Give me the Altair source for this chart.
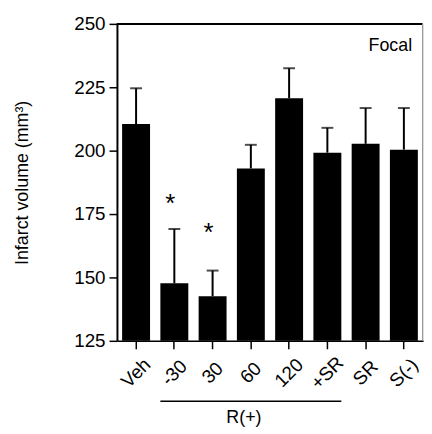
import altair as alt
import pandas as pd

groups = ["Veh", "-30", "30", "60", "120", "+SR", "SR", "S(-)"]
means = [210.5, 147.7, 142.6, 193.0, 220.7, 199.2, 202.7, 200.4]
sems = [14.1, 21.4, 10.1, 9.3, 11.8, 9.8, 14.1, 16.4]
star_groups = ["-30", "30"]
star_values = [181.6, 170.3]
bracket_start = ["-30"]
bracket_end = ["+SR"]
bracket_label = ["R(+)"]
bracket_label_at = ["60"]
panel_label = "Focal"
y_ticks = [125, 150, 175, 200, 225, 250]

FONT = "Liberation Sans"
W, H = 309, 320

df = pd.DataFrame({"group": groups, "mean": means, "sem": sems})
df["top"] = df["mean"] + df["sem"]
df["base"] = 125
stars = pd.DataFrame({"group": star_groups, "v": star_values, "t": ["*"] * len(star_groups)})
brk = pd.DataFrame({"a": bracket_start, "b": bracket_end})
brk_lab = pd.DataFrame({"g": bracket_label_at, "t": bracket_label})

xscale = alt.Scale(domain=groups, paddingInner=0.27, paddingOuter=0.135)
yscale = alt.Scale(domain=[125, 250], zero=False, nice=False)

xenc = alt.X("group:N", scale=xscale, sort=groups,
             axis=alt.Axis(title=None, labelAngle=-45, labelAlign="center",
                           labelBaseline="middle", labelPadding=24, tickSize=8,
                           tickWidth=1.5, domainWidth=1.5, domainColor="black",
                           tickColor="black", labelFontSize=19, labelFont=FONT,
                           labelColor="black"))
yenc = alt.Y("mean:Q", scale=yscale,
             axis=alt.Axis(title="Infarct volume (mm³)", values=y_ticks, tickSize=8,
                           tickWidth=1.5, domainWidth=2, domainColor="black",
                           tickColor="black", labelFontSize=19, labelFont=FONT,
                           labelColor="black", labelPadding=4, titleFont=FONT,
                           titleFontSize=18, titleFontWeight="normal",
                           titleColor="black", titlePadding=43, grid=False))

base = alt.Chart(df)
bars = base.mark_bar(color="black").encode(x=xenc, y=yenc, y2="base:Q")
stems = base.mark_rule(color="black", strokeWidth=2).encode(
    x=alt.X("group:N", scale=xscale, sort=groups), y="mean:Q", y2="top:Q")
caps = base.mark_tick(color="black", orient="horizontal", size=12, thickness=2).encode(
    x=alt.X("group:N", scale=xscale, sort=groups), y=alt.Y("top:Q", scale=yscale))

star_layer = alt.Chart(stars).mark_text(font=FONT, fontSize=26, dx=-4, dy=15,
                                        baseline="alphabetic", color="black").encode(
    x=alt.X("group:N", scale=xscale, sort=groups), y=alt.Y("v:Q", scale=yscale), text="t:N")

bracket = alt.Chart(brk).mark_rule(color="black", strokeWidth=1.5, xOffset=-14.1, x2Offset=14.1).encode(
    x=alt.X("a:N", scale=xscale, sort=groups), x2="b:N", y=alt.value(H + 61))
bracket_text = alt.Chart(brk_lab).mark_text(font=FONT, fontSize=18, dx=-7, color="black",
                                            baseline="middle").encode(
    x=alt.X("g:N", scale=xscale, sort=groups), y=alt.value(H + 78), text="t:N")

top_line = alt.Chart(df).mark_rule(color="black", strokeWidth=1.5).encode(
    x=alt.value(0), x2=alt.value(W), y=alt.value(0))
right_line = alt.Chart(df).mark_rule(color="#999999", strokeWidth=1).encode(
    x=alt.value(W - 0.5), y=alt.value(0), y2=alt.value(H))
focal = alt.Chart(pd.DataFrame({"t": [panel_label]})).mark_text(
    font=FONT, fontSize=18, align="right", baseline="middle", color="black").encode(
    x=alt.value(W - 11), y=alt.value(22), text="t:N")

chart = alt.layer(bars, stems, caps, star_layer, bracket, bracket_text, top_line, right_line, focal).properties(
    width=W, height=H, padding={"left": 5, "top": 5, "right": 0, "bottom": 0}
).configure_view(stroke=None).configure(background="white")

chart.save("out.html", embed_options={"renderer": "svg", "actions": False})
